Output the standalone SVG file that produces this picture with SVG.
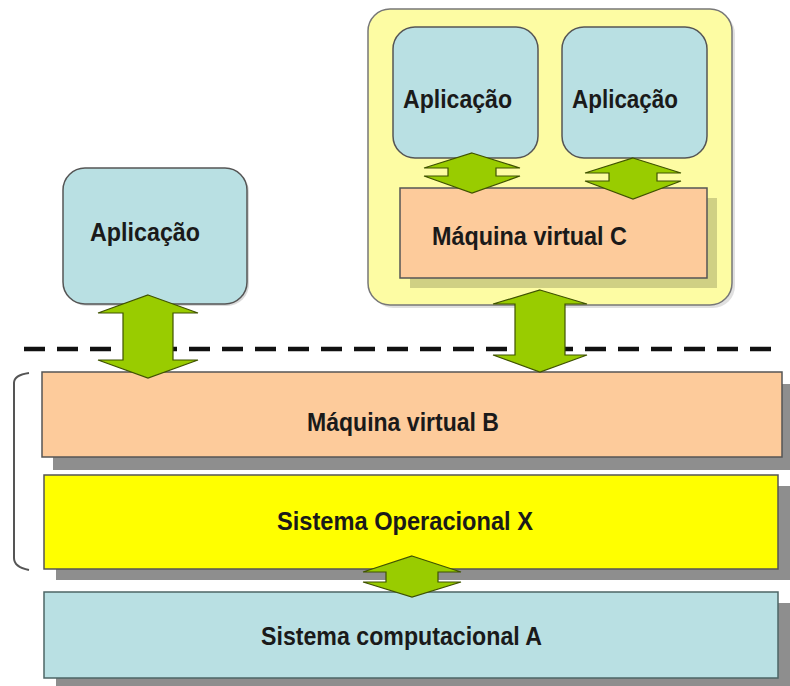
<svg xmlns="http://www.w3.org/2000/svg" width="790" height="686" viewBox="0 0 790 686">
<style>
.lbl{font-family:"Liberation Sans",Arial,sans-serif;font-weight:bold;fill:#1a1a1a;lengthAdjust:spacingAndGlyphs}
.app{fill:#b9e0e3;stroke:#555;stroke-width:1.5}
.peach{fill:#fdcb9b;stroke:#555;stroke-width:1.5}
.shadow{fill:#8e8e8e}
.arrow{fill:#99cc00;stroke:#3f5200;stroke-width:1.2;stroke-linejoin:miter}
</style>
<rect width="790" height="686" fill="#ffffff"/>

<g id="container-vmc">
  <rect x="371" y="12" width="364" height="296" rx="22" fill="#000" opacity="0.12"/>
  <rect x="368" y="9" width="364" height="296" rx="22" fill="#fdfca3" stroke="#777" stroke-width="1.5"/>
</g>

<g id="app-c1">
  <rect x="393" y="27" width="145" height="131" rx="22" class="app"/>
  <text x="403" y="108" class="lbl" font-size="25" textLength="109" lengthAdjust="spacingAndGlyphs">Aplicação</text>
</g>
<g id="app-c2">
  <rect x="562" y="27" width="145" height="131" rx="22" class="app"/>
  <text x="572" y="108" class="lbl" font-size="25" textLength="106" lengthAdjust="spacingAndGlyphs">Aplicação</text>
</g>

<g id="vm-c">
  <rect x="410" y="198" width="307" height="90" fill="#6b6b40" opacity="0.3"/>
  <rect x="400" y="188" width="307" height="90" class="peach"/>
  <text x="432" y="245" class="lbl" font-size="26" textLength="195" lengthAdjust="spacingAndGlyphs">Máquina virtual C</text>
</g>

<g id="app-left">
  <rect x="65" y="170" width="184" height="136" rx="22" fill="#000" opacity="0.15"/>
  <rect x="63" y="168" width="184" height="136" rx="22" class="app"/>
  <text x="90" y="241" class="lbl" font-size="26" textLength="110" lengthAdjust="spacingAndGlyphs">Aplicação</text>
</g>

<g id="bracket">
  <path d="M29,373 Q14,375 14,383 L14,558 Q14,567 29,570" fill="none" stroke="#555" stroke-width="2"/>
</g>

<g id="vm-b">
  <rect x="53" y="384" width="740" height="86" class="shadow"/>
  <rect x="42" y="372" width="740" height="85" class="peach"/>
  <text x="307" y="431" class="lbl" font-size="26" textLength="192" lengthAdjust="spacingAndGlyphs">Máquina virtual B</text>
</g>

<g id="so-x">
  <rect x="56" y="486" width="740" height="94" class="shadow"/>
  <rect x="44" y="475" width="734" height="94" fill="#ffff00" stroke="#555" stroke-width="1.5"/>
  <text x="277" y="530" class="lbl" font-size="26" textLength="256" lengthAdjust="spacingAndGlyphs">Sistema Operacional X</text>
</g>

<g id="sistema-a">
  <rect x="56" y="603" width="740" height="90" class="shadow"/>
  <rect x="44" y="592" width="734" height="86" fill="#b9e0e3" stroke="#4d6666" stroke-width="1.5"/>
  <text x="261" y="645" class="lbl" font-size="26" textLength="281" lengthAdjust="spacingAndGlyphs">Sistema computacional A</text>
</g>

<g id="connectors">
  <line x1="24" y1="349" x2="780" y2="349" stroke="#111" stroke-width="4.5" stroke-dasharray="21 12"/>
  <polygon class="arrow" points="148,295 198,313 173,313 173,360 198,360 148,378 98,360 123,360 123,313 98,313"/>
  <polygon class="arrow" points="540,290 587,304 565,304 565,355 587,355 540,372 493,355 515,355 515,304 493,304"/>
  <polygon class="arrow" points="472,153 520,168 496,168 496,176 520,176 472,193 424,176 448,176 448,168 424,168"/>
  <polygon class="arrow" points="633,158 681,173 657,173 657,181 681,181 633,199 585,181 609,181 609,173 585,173"/>
  <polygon class="arrow" points="412,556 461,572 438,572 438,582 461,582 412,597 363,582 386,582 386,572 363,572"/>
</g>
</svg>
